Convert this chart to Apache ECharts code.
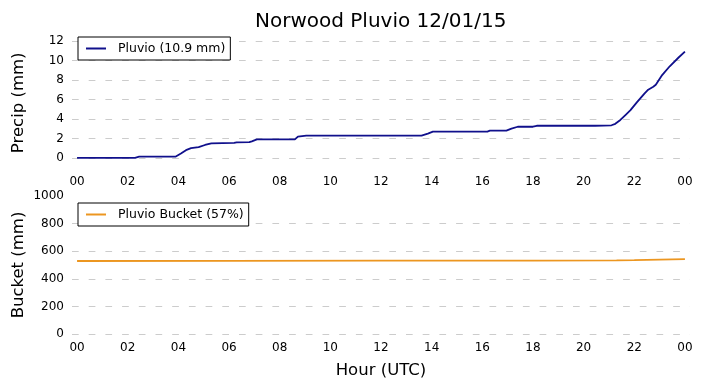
<!DOCTYPE html>
<html>
<head>
<meta charset="utf-8">
<script src="https://cdn.jsdelivr.net/npm/echarts@6/dist/echarts.min.js"></script>
<style>html,body{margin:0;padding:0;background:#fff}#c{width:703px;height:388px}</style>
</head>
<body>
<div id="c"></div>
<script>
var titleText = 'Norwood Pluvio 12/01/15';
var hourTicks = [0, 2, 4, 6, 8, 10, 12, 14, 16, 18, 20, 22, 24];
var precipTicks = [0, 2, 4, 6, 8, 10, 12];
var precipHours = [0, 2.29, 2.45, 3.9, 4.1, 4.3, 4.5, 4.8, 5.05, 5.3, 6.2, 6.3, 6.8, 6.9, 7.1, 8.6, 8.72, 9.05, 13.6, 13.85, 14.05, 16.2, 16.3, 16.95, 17.15, 17.4, 18.0, 18.15, 20.45, 20.5, 21.1, 21.25, 21.45, 21.65, 21.85, 22.1, 22.4, 22.55, 22.75, 22.85, 23.1, 23.4, 23.75, 24.0];
var precipValues = [0, 0, 0.13, 0.15, 0.45, 0.8, 1.0, 1.1, 1.33, 1.5, 1.55, 1.6, 1.62, 1.7, 1.91, 1.91, 2.19, 2.29, 2.29, 2.5, 2.7, 2.7, 2.8, 2.8, 3.0, 3.2, 3.2, 3.3, 3.3, 3.35, 3.35, 3.5, 3.9, 4.4, 4.9, 5.7, 6.6, 7.0, 7.3, 7.5, 8.5, 9.4, 10.3, 10.9];
var bucketHours = [0, 6, 12, 18, 21.3, 22, 22.5, 23, 23.5, 24];
var bucketValues = [529, 530, 531, 532, 533, 535, 537, 539, 541, 542];
var precipName = 'Pluvio (10.9 mm)';
var bucketName = 'Pluvio Bucket (57%)';

function pairs(xs, ys) { return xs.map(function (x, i) { return [x, ys[i]]; }); }
function hourFmt(v) { var h = Math.round(v) % 24; return (h < 10 ? '0' : '') + h; }
function plainFmt(v) { return String(v); }

var font = 'DejaVu Sans';
var dash = [6.7, 10];
var chart = echarts.init(document.getElementById('c'), null, { renderer: 'canvas' });
chart.setOption({
  animation: false,
  backgroundColor: '#fff',
  textStyle: { fontFamily: font },
  title: { text: titleText, left: 255, top: 12, padding: 0,
    textStyle: { fontFamily: font, fontSize: 20, fontWeight: 'normal', color: '#000' } },
  legend: [
    { data: [precipName], left: 78, top: 37, orient: 'vertical', padding: [5, 5, 5, 8],
      borderColor: '#000', borderWidth: 1, borderRadius: 0, backgroundColor: '#fff',
      icon: 'rect', itemWidth: 20, itemHeight: 2,
      textStyle: { fontFamily: font, fontSize: 12.5, color: '#000', padding: [0, 0, 0, 7] } },
    { data: [bucketName], left: 78, top: 203, orient: 'vertical', padding: [5, 5, 5, 8],
      borderColor: '#000', borderWidth: 1, borderRadius: 0, backgroundColor: '#fff',
      icon: 'rect', itemWidth: 20, itemHeight: 2,
      textStyle: { fontFamily: font, fontSize: 12.5, color: '#000', padding: [0, 0, 0, 7] } }
  ],
  grid: [
    { left: 72, right: 13, top: 38, height: 129.7, containLabel: false, outerBoundsMode: 'none' },
    { left: 72, right: 13, top: 196, height: 138, containLabel: false, outerBoundsMode: 'none' }
  ],
  xAxis: [0, 1].map(function (i) {
    var ax = {
      type: 'value', gridIndex: i, min: -0.2, max: 24.2,
      axisLine: { show: false },
      axisTick: { show: false, customValues: hourTicks },
      splitLine: { show: false },
      axisLabel: { customValues: hourTicks, formatter: hourFmt, margin: 8,
        fontFamily: font, fontSize: 12, color: '#000' }
    };
    if (i === 1) {
      ax.name = 'Hour (UTC)'; ax.nameLocation = 'middle'; ax.nameGap = 28; ax.nameMoveOverlap = false;
      ax.nameTextStyle = { fontFamily: font, fontSize: 16.5, color: '#000' };
    }
    return ax;
  }),
  yAxis: [
    { type: 'value', gridIndex: 0, min: -1, max: 12.3,
      name: 'Precip (mm)', nameLocation: 'middle', nameGap: 45, nameRotate: 90, nameMoveOverlap: false,
      nameTextStyle: { fontFamily: font, fontSize: 16.5, color: '#000' },
      axisLine: { show: false },
      axisTick: { show: false, customValues: precipTicks },
      axisLabel: { customValues: precipTicks, formatter: plainFmt, margin: 8, fontFamily: font, fontSize: 12, color: '#000' },
      splitLine: { show: true, lineStyle: { color: '#cccccc', type: dash, width: 1 } } },
    { type: 'value', gridIndex: 1, min: 0, max: 1000, interval: 200,
      name: 'Bucket (mm)', nameLocation: 'middle', nameGap: 45, nameRotate: 90, nameMoveOverlap: false,
      nameTextStyle: { fontFamily: font, fontSize: 16.5, color: '#000' },
      axisLine: { show: false }, axisTick: { show: false },
      axisLabel: { formatter: plainFmt, margin: 8, fontFamily: font, fontSize: 12, color: '#000' },
      splitLine: { show: true, showMaxLine: false, lineStyle: { color: '#cccccc', type: dash, width: 1 } } }
  ],
  series: [
    { name: precipName, type: 'line', xAxisIndex: 0, yAxisIndex: 0,
      data: pairs(precipHours, precipValues), showSymbol: false, symbol: 'none',
      color: '#10108c', lineStyle: { color: '#10108c', width: 1.8 } },
    { name: bucketName, type: 'line', xAxisIndex: 1, yAxisIndex: 1,
      data: pairs(bucketHours, bucketValues), showSymbol: false, symbol: 'none',
      color: '#ec9620', lineStyle: { color: '#ec9620', width: 1.8 } }
  ]
});
</script>
</body>
</html>
